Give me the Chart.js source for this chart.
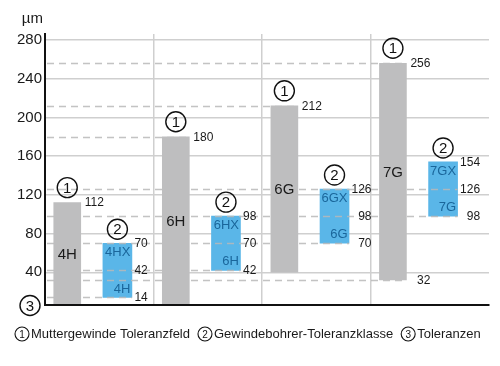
<!DOCTYPE html>
<html lang="de">
<head>
<meta charset="UTF-8">
<title>Toleranzfelder Muttergewinde / Gewindebohrer</title>
<script src="https://cdn.jsdelivr.net/npm/chart.js"></script>
<style>
  body { margin: 0; background: #fff; }
  #chart { display: block; }
</style>
</head>
<body>
<canvas id="chart" width="500" height="366"></canvas>
<script>
// tolerance classes, one column each
const classes = ['4H', '6H', '6G', '7G'];

// ① Muttergewinde Toleranzfeld (µm)
const nutLow = [0, 0, 40, 32];
const nutHigh = [112, 180, 212, 256];
const nutLowLabel = [null, null, null, 32];

// ② Gewindebohrer-Toleranzklasse (µm)
const tapLow = [14, 42, 70, 98];
const tapMid = [42, 70, 98, 126];
const tapHigh = [70, 98, 126, 154];
const tapUpperName = ['4HX', '6HX', '6GX', '7GX'];
const tapLowerName = ['4H', '6H', '6G', '7G'];

// axis + reference lines
const yTicks = [40, 80, 120, 160, 200, 240, 280];
const refLevels = [14, 32, 42, 70, 98, 126, 180, 212, 256];
const legendItems = ['Muttergewinde Toleranzfeld', 'Gewindebohrer-Toleranzklasse', 'Toleranzen'];

const FONT = "'Liberation Sans', Arial, sans-serif";
const NUT_SHIFT = 0.205;   // where the grey bar sits inside its column
const TAP_SHIFT = 0.667;   // where the blue bar sits inside its column
const TEXT = '#1a1a1a';

Chart.defaults.font.family = FONT;
Chart.defaults.color = TEXT;

function circled(ctx, cx, cy, r, digit, size) {
    ctx.save();
    ctx.beginPath();
    ctx.arc(cx, cy, r, 0, Math.PI * 2);
    ctx.lineWidth = r > 8 ? 1.4 : 1.1;
    ctx.strokeStyle = '#111';
    ctx.stroke();
    ctx.fillStyle = '#111';
    ctx.font = size + 'px ' + FONT;
    ctx.textAlign = 'center';
    ctx.textBaseline = 'middle';
    ctx.fillText(digit, cx, cy + 1);
    ctx.restore();
}

// dashed reference lines, drawn right after the blue bars (grey bars cover them)
const refLinesPlugin = {
    id: 'refLines',
    afterDatasetDraw(chart, args) {
        if (args.index !== 1) return;
        const ctx = chart.ctx, area = chart.chartArea, y = chart.scales.y;
        const nutBars = chart.getDatasetMeta(0).data;
        const tapBars = chart.getDatasetMeta(1).data;
        ctx.save();
        ctx.setLineDash([7, 5]);
        ctx.lineWidth = 1.5;
        ctx.strokeStyle = 'rgba(185,185,185,0.85)';
        refLevels.forEach(v => {
            let end = null;
            classes.forEach((c, i) => {
                if (nutLow[i] === v || nutHigh[i] === v) {
                    const b = nutBars[i]; end = Math.max(end || 0, b.x + b.width / 2);
                }
                if (tapLow[i] === v || tapMid[i] === v || tapHigh[i] === v) {
                    const b = tapBars[i]; end = Math.max(end || 0, b.x + b.width / 2);
                }
            });
            if (end === null) return;
            const py = Math.round(y.getPixelForValue(v)) + 0.5;
            ctx.beginPath();
            ctx.moveTo(area.left + 2, py);
            ctx.lineTo(end, py);
            ctx.stroke();
        });
        ctx.restore();
    }
};

// circles, bar names, value labels, unit, legend
const annotatePlugin = {
    id: 'annotate',
    afterDatasetsDraw(chart) {
        const ctx = chart.ctx, area = chart.chartArea, y = chart.scales.y;
        const nutBars = chart.getDatasetMeta(0).data;
        const tapBars = chart.getDatasetMeta(1).data;

        function valueLabels(bar, values, gap) {
            ctx.save();
            ctx.font = '12px ' + FONT;
            ctx.fillStyle = TEXT;
            ctx.textBaseline = 'middle';
            ctx.textAlign = 'right';
            const texts = values.map(String);
            const w = Math.max(...texts.map(t => ctx.measureText(t).width));
            const right = bar.x + bar.width / 2 + gap + w;
            values.forEach((v, k) => ctx.fillText(texts[k], right, y.getPixelForValue(v) + 0.5));
            ctx.restore();
        }

        classes.forEach((c, i) => {
            // grey bar
            const g = nutBars[i];
            const gTop = y.getPixelForValue(nutHigh[i]);
            const gBot = Math.min(area.bottom, y.getPixelForValue(nutLow[i]));
            ctx.save();
            ctx.font = '15px ' + FONT;
            ctx.fillStyle = TEXT;
            ctx.textAlign = 'center';
            ctx.textBaseline = 'middle';
            ctx.fillText(c, g.x, (gTop + gBot) / 2 + 1);
            ctx.restore();
            circled(ctx, g.x, gTop - 15, 10, '1', 15);
            const gVals = [nutHigh[i]];
            if (nutLowLabel[i] !== null) gVals.push(nutLowLabel[i]);
            valueLabels(g, gVals, 4);

            // blue bar
            const b = tapBars[i];
            const bTop = y.getPixelForValue(tapHigh[i]);
            const bBot = y.getPixelForValue(tapLow[i]);
            const bRight = b.x + b.width / 2;
            ctx.save();
            ctx.font = '13px ' + FONT;
            ctx.fillStyle = '#1a669b';
            ctx.textAlign = 'right';
            ctx.textBaseline = 'middle';
            ctx.fillText(tapUpperName[i], bRight - 1.5, bTop + 9.5);
            ctx.fillText(tapLowerName[i], bRight - 1.5, bBot - 8.5);
            ctx.restore();
            circled(ctx, b.x, bTop - 14, 10, '2', 15);
            valueLabels(b, [tapHigh[i], tapMid[i], tapLow[i]], 2.5);
        });

        // unit and ③ at the axis foot
        ctx.save();
        ctx.font = '15px ' + FONT;
        ctx.fillStyle = TEXT;
        ctx.textAlign = 'right';
        ctx.textBaseline = 'middle';
        ctx.fillText('µm', 43, 19);
        ctx.restore();
        circled(ctx, 30, area.bottom + 0.5, 10, '3', 15);

        // legend line
        ctx.save();
        ctx.font = '13px ' + FONT;
        ctx.textBaseline = 'middle';
        ctx.textAlign = 'left';
        ctx.fillStyle = TEXT;
        let x = 15;
        const ly = 334;
        legendItems.forEach((t, k) => {
            circled(ctx, x + 7, ly, 7, String(k + 1), 10);
            ctx.font = '13px ' + FONT;
            ctx.fillStyle = TEXT;
            ctx.fillText(t, x + 16, ly);
            x += 16 + ctx.measureText(t).width + 8;
        });
        ctx.restore();
    }
};

new Chart(document.getElementById('chart'), {
    type: 'bar',
    data: {
        datasets: [
            {
                label: 'Muttergewinde Toleranzfeld',
                data: classes.map((c, i) => ({ x: i + NUT_SHIFT, y: [nutLow[i], nutHigh[i]] })),
                backgroundColor: '#bebebf',
                barThickness: 27,
                grouped: false,
                clip: 0,
                order: 0
            },
            {
                label: 'Gewindebohrer-Toleranzklasse',
                data: classes.map((c, i) => ({ x: i + TAP_SHIFT, y: [tapLow[i], tapHigh[i]] })),
                backgroundColor: '#5ab6e8',
                barThickness: 29,
                grouped: false,
                clip: 0,
                order: 1
            }
        ]
    },
    options: {
        responsive: false,
        animation: false,
        devicePixelRatio: 1,
        layout: { padding: { top: 34, right: 11, bottom: 61, left: 0 } },
        plugins: {
            legend: { display: false },
            tooltip: { enabled: false }
        },
        scales: {
            x: {
                type: 'linear',
                offset: false,
                min: 0,
                max: 4.09,
                afterBuildTicks: s => { s.ticks = [1, 2, 3].map(v => ({ value: v })); },
                afterFit: s => { s.height = 0; },
                ticks: { display: false },
                grid: { color: '#cfcfcf', lineWidth: 1.5, drawTicks: false, offset: false },
                border: { color: '#111', width: 2, z: 1 }
            },
            y: {
                min: 6.2,
                max: 286.2,
                afterBuildTicks: s => { s.ticks = yTicks.map(v => ({ value: v })); },
                afterFit: s => { s.width = 45; },
                ticks: { font: { size: 15 }, color: TEXT, padding: 3 },
                grid: { color: '#cfcfcf', lineWidth: 1.5, drawTicks: false },
                border: { color: '#111', width: 2, z: 1 }
            }
        }
    },
    plugins: [refLinesPlugin, annotatePlugin]
});
</script>
</body>
</html>
